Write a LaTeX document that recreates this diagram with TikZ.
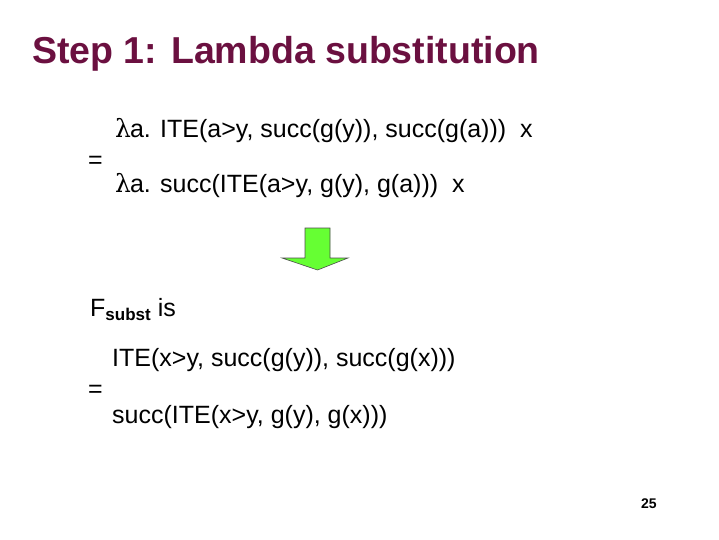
\documentclass[tikz,border=0pt]{standalone}
\usepackage{fontspec}
\setmainfont{Liberation Sans}
\newfontfamily\symf{DejaVu Serif}
\definecolor{titlec}{HTML}{6B1040}
\definecolor{arrowg}{HTML}{66FF33}
\begin{document}
\begin{tikzpicture}[x=1pt,y=-1pt,
  body/.style={anchor=base west,inner sep=0pt,font=\fontsize{25}{28}\selectfont}]
\useasboundingbox (0,0) rectangle (719,539);
\node[anchor=base west,inner sep=0pt,text=titlec,font=\fontsize{37.5}{40}\selectfont\bfseries] (title) at (32,63) {Step 1: Lambda substitution};
\node[body] (l1) at (115,137) {{\symf λ}\kern-1pt a. ITE(a>y, succ(g(y)), succ(g(a)))\ \ x};
\node[body] (eq1) at (88,168) {=};
\node[body] (l2) at (115,192) {{\symf λ}\kern-1pt a. succ(ITE(a>y, g(y), g(a)))\ \ x};
\draw[fill=arrowg,draw=gray!60!black,line width=0.6pt] (305,228) -- (330,228) -- (330,258) -- (348,258) -- (317.5,270) -- (282,258) -- (305,258) -- cycle;
\node[body] (fs) at (90,316) {F{\fontsize{17}{20}\selectfont\raisebox{-4pt}{\bfseries subst}} is};
\node[body] (m1) at (112,366) {ITE(x>y, succ(g(y)), succ(g(x)))};
\node[body] (eq2) at (88,397) {=};
\node[body] (m2) at (112,423) {succ(ITE(x>y, g(y), g(x)))};
\node[anchor=base west,inner sep=0pt,font=\fontsize{14}{16}\selectfont\bfseries] (pg) at (641,508) {25};
\end{tikzpicture}
\end{document}
